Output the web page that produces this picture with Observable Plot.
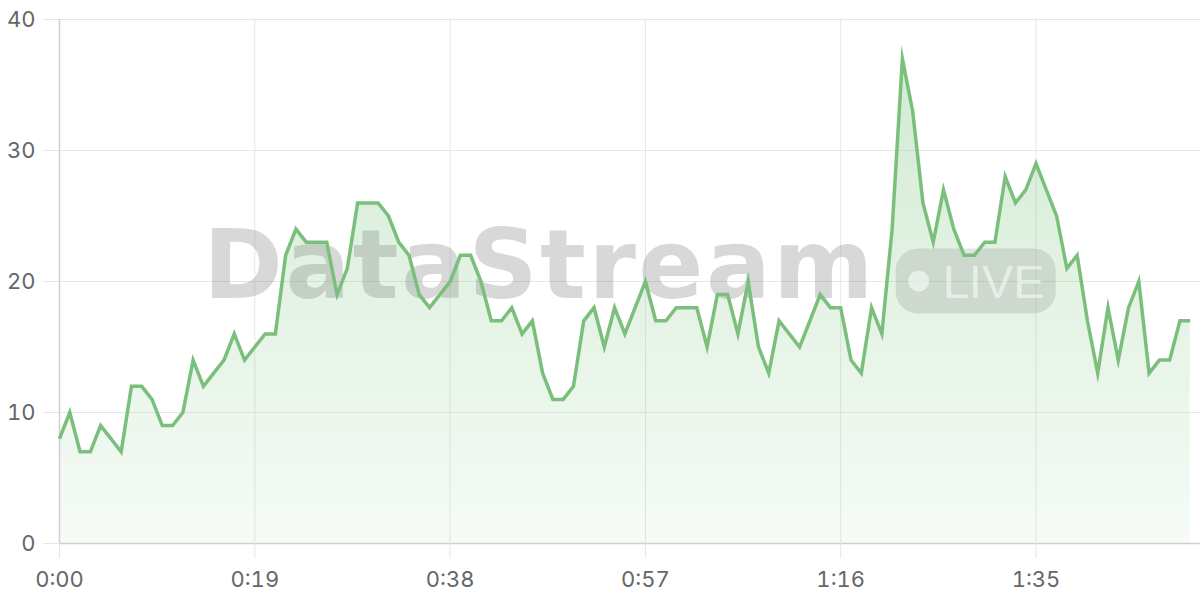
<!DOCTYPE html>
<html>
<head>
<meta charset="utf-8">
<script src="https://cdn.jsdelivr.net/npm/d3@7"></script>
<script src="https://cdn.jsdelivr.net/npm/@observablehq/plot@0.6"></script>
<style>
  html, body { margin: 0; padding: 0; background: #fff; }
  #chart svg { display: block; }
</style>
</head>
<body>
<div id="chart"></div>
<script>
// values per second, from 0:00 to 1:50
const values = [
  8,10,7,7,9,8,7,12,12,11,
  9,9,10,14,12,13,14,16,14,15,
  16,16,22,24,23,23,23,19,21,26,
  26,26,25,23,22,19,18,19,20,22,
  22,20,17,17,18,16,17,13,11,11,
  12,17,18,15,18,16,18,20,17,17,
  18,18,18,15,19,19,16,20,15,13,
  17,16,15,17,19,18,18,14,13,18,
  16,24,37,33,26,23,27,24,22,22,
  23,23,28,26,27,29,27,25,21,22,
  17,13,18,14,18,20,13,14,14,17,17
];
const xTicks = [0, 19, 38, 57, 76, 95];
const yTicks = [0, 10, 20, 30, 40];
const watermarkText = "DataStream";
const badgeText = "LIVE";

const data = values.map((v, i) => ({t: i, v}));
const fmt = s => `${Math.floor(s / 60)}:${String(s % 60).padStart(2, "0")}`;

const lineColor = "#7bbf7d";

const defs = () => {
  const d = d3.create("svg:defs");
  const g = d.append("linearGradient").attr("id", "areaGrad")
    .attr("x1", 0).attr("y1", 0).attr("x2", 0).attr("y2", 1);
  g.append("stop").attr("offset", "0%").attr("stop-color", "#81c784").attr("stop-opacity", 0.36);
  g.append("stop").attr("offset", "100%").attr("stop-color", "#81c784").attr("stop-opacity", 0.07);
  return d.node();
};

const watermark = (index, scales, vals, dims) => {
  const {width, height, marginLeft, marginRight, marginTop, marginBottom} = dims;
  const cx = (marginLeft + width - marginRight) / 2;
  const cy = (marginTop + height - marginBottom) / 2;
  const g = d3.create("svg:g").attr("class", "wm")
    .attr("data-cx", cx).attr("data-cy", cy);
  g.append("text").attr("class", "wm-text")
    .attr("y", cy + 17)
    .attr("text-anchor", "start")
    .attr("font-family", "'DejaVu Sans', sans-serif")
    .attr("font-weight", "bold")
    .attr("font-size", 96)
    .attr("letter-spacing", 2.5)
    .attr("fill", "rgb(120,120,120)").attr("fill-opacity", 0.29)
    .text(watermarkText);
  const b = g.append("g").attr("class", "wm-badge");
  b.append("rect").attr("x", 0).attr("y", cy - 32.5).attr("width", 160).attr("height", 65)
    .attr("rx", 22).attr("fill", "rgb(120,120,120)").attr("fill-opacity", 0.2);
  b.append("circle").attr("cx", 23).attr("cy", cy).attr("r", 10.5)
    .attr("fill", "#fff").attr("fill-opacity", 0.55);
  b.append("text").attr("x", 47).attr("y", cy + 16.5)
    .attr("text-anchor", "start")
    .attr("font-family", "'Liberation Sans', Arial, sans-serif")
    .attr("font-size", 47)
    .attr("fill", "#fff").attr("fill-opacity", 0.55)
    .text(badgeText);
  return g.node();
};

const chart = Plot.plot({
  width: 1200,
  height: 600,
  marginTop: 19,
  marginBottom: 57,
  marginLeft: 59,
  marginRight: 0,
  style: {fontFamily: "Inter, 'Noto Sans', sans-serif", fontSize: "22px", color: "#666", background: "#fff"},
  x: {domain: [0, 111], axis: null},
  y: {domain: [0, 40], axis: null},
  marks: [
    defs,
    Plot.gridX(xTicks, {stroke: "#e6e6e6", strokeOpacity: 1, strokeWidth: 1}),
    Plot.gridY(yTicks, {stroke: "#e6e6e6", strokeOpacity: 1, strokeWidth: 1}),
    Plot.areaY(data, {x: "t", y: "v", fill: "url(#areaGrad)"}),
    Plot.ruleX([0], {stroke: "#d0d0d0", strokeWidth: 1.5}),
    Plot.ruleY([0], {stroke: "#d0d0d0", strokeWidth: 1.5}),
    watermark,
    Plot.lineY(data, {x: "t", y: "v", stroke: lineColor, strokeWidth: 3.5,
      strokeLinejoin: "miter", strokeMiterlimit: 10, strokeLinecap: "butt"}),
    Plot.axisX(xTicks, {tickSize: 15, tickPadding: 13, stroke: "#e6e6e6", fill: "#666",
      tickFormat: fmt, fontSize: 22, label: null}),
    Plot.axisY(yTicks, {tickSize: 16, tickPadding: 8, stroke: "#e6e6e6", fill: "#666",
      fontSize: 22, label: null})
  ]
});

document.getElementById("chart").appendChild(chart);

// position the watermark group centred on the plot area
const wm = chart.querySelector("g.wm");
if (wm) {
  const cx = +wm.getAttribute("data-cx");
  const t = wm.querySelector("text.wm-text");
  const w = t.getComputedTextLength();
  const gap = 20, pill = 160;
  const start = cx - (w + gap + pill) / 2;
  t.setAttribute("x", start);
  wm.querySelector("g.wm-badge").setAttribute("transform", `translate(${start + w + gap},0)`);
}
</script>
</body>
</html>
